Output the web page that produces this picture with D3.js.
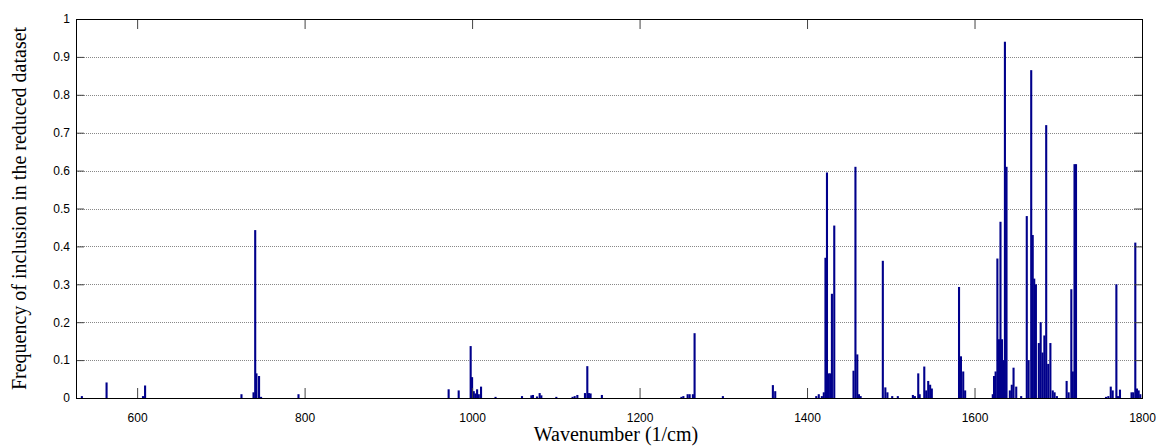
<!DOCTYPE html>
<html>
<head>
<meta charset="utf-8">
<script src="https://cdn.jsdelivr.net/npm/d3@7"></script>
<style>
  body { margin: 0; background: #fff; }
  svg { display: block; }
  .tick-label { font-family: "Liberation Sans", Arial, sans-serif; font-size: 12px; fill: #000; }
  .axis-title { font-family: "Liberation Serif", "Times New Roman", serif; font-size: 20px; fill: #000; }
</style>
</head>
<body>
<svg></svg>
<script>
// wavenumber (1/cm) of each selected variable
const wavenumbers = [
  534, 563.5, 607, 609.5, 724.6, 739, 741, 742.5, 745.6, 748, 792.7,
  972, 984, 998.3, 1000, 1002, 1004, 1006, 1008, 1010.7, 1028,
  1059.6, 1070.8, 1072.7, 1077.5, 1080.7, 1082.7, 1100.6, 1120, 1122.5, 1125.7,
  1134.8, 1137.6, 1139.5, 1141.5, 1155,
  1250, 1252.3, 1257.4, 1259.8, 1263.7, 1265.7, 1299.5, 1359.2, 1362,
  1411, 1414, 1417.7, 1420, 1422, 1423.8, 1425.7, 1427.6, 1429.7, 1432.5,
  1455.5, 1457.8, 1460, 1462, 1464,
  1490.5, 1493.5, 1496, 1501.7, 1508.4, 1526.4, 1528.8, 1532.8, 1534.5,
  1540, 1542.3, 1544.7, 1547, 1549,
  1581.5, 1583.8, 1586.5, 1588.8,
  1621.8, 1623.3, 1625.2, 1627.3, 1629.2, 1631, 1632.8, 1634.5, 1636.3, 1638.2,
  1642.2, 1644.5, 1646.6, 1649.8, 1655.7,
  1662.4, 1664.6, 1667.7, 1669.5, 1671.3, 1673.3, 1676.8, 1679, 1681.2, 1683.4,
  1685.6, 1688, 1690.6, 1693.4, 1695.6, 1698.4,
  1710, 1712.4, 1715.6, 1717.4, 1719.4, 1721.2,
  1757, 1759.8, 1762.7, 1765, 1769.4, 1771.3, 1773.7,
  1787.5, 1789.5, 1792, 1794, 1796, 1798
];
// frequency of inclusion in the reduced dataset
const frequencies = [
  0.005, 0.041, 0.005, 0.033, 0.01, 0.015, 0.443, 0.065, 0.058, 0.003, 0.01,
  0.023, 0.02, 0.137, 0.055, 0.018, 0.012, 0.023, 0.01, 0.03, 0.003,
  0.005, 0.007, 0.008, 0.004, 0.013, 0.007, 0.003, 0.003, 0.005, 0.008,
  0.013, 0.084, 0.013, 0.012, 0.008,
  0.003, 0.005, 0.01, 0.01, 0.01, 0.171, 0.005, 0.034, 0.018,
  0.005, 0.01, 0.005, 0.015, 0.37, 0.595, 0.065, 0.065, 0.275, 0.455,
  0.072, 0.61, 0.115, 0.01, 0.005,
  0.362, 0.028, 0.015, 0.005, 0.005, 0.008, 0.005, 0.065, 0.01,
  0.083, 0.02, 0.045, 0.035, 0.025,
  0.293, 0.11, 0.07, 0.02,
  0.01, 0.058, 0.07, 0.368, 0.155, 0.465, 0.155, 0.1, 0.94, 0.61,
  0.02, 0.035, 0.08, 0.03, 0.005,
  0.48, 0.1, 0.865, 0.43, 0.315, 0.3, 0.145, 0.2, 0.12, 0.165,
  0.72, 0.09, 0.145, 0.02, 0.015, 0.005,
  0.045, 0.015, 0.287, 0.07, 0.617, 0.617,
  0.003, 0.005, 0.03, 0.02, 0.3, 0.005, 0.022,
  0.015, 0.015, 0.41, 0.025, 0.02, 0.01
];
const xTicks = [600, 800, 1000, 1200, 1400, 1600, 1800];
const yTicks = [0, 0.1, 0.2, 0.3, 0.4, 0.5, 0.6, 0.7, 0.8, 0.9, 1];

let width = 1157;
let height = 447;
let margin = { top: 19, right: 15, bottom: 49, left: 76 };
let innerWidth = width - margin.left - margin.right;
let innerHeight = height - margin.top - margin.bottom;
let barWidth = 2.5; // in 1/cm

let svg = d3.select('svg').attr('width', width).attr('height', height);
let g = svg.append('g').attr('transform', `translate(${margin.left}, ${margin.top})`);

let xScale = d3.scaleLinear().domain([527, 1800]).range([0, innerWidth]);
let yScale = d3.scaleLinear().domain([0, 1]).range([innerHeight, 0]);

let data = wavenumbers.map((w, i) => ({ w: w, v: frequencies[i] }));

// grid lines
g.append('g')
  .selectAll('line')
  .data(yTicks.filter(t => t > 0 && t < 1))
  .enter()
  .append('line')
  .attr('x1', 0)
  .attr('x2', innerWidth)
  .attr('y1', d => Math.round(yScale(d)) + 0.5)
  .attr('y2', d => Math.round(yScale(d)) + 0.5)
  .attr('stroke', '#888')
  .attr('stroke-dasharray', '1,1');

// bars
g.append('g')
  .selectAll('rect')
  .data(data)
  .enter()
  .append('rect')
  .attr('x', d => xScale(d.w - barWidth / 2))
  .attr('width', xScale(barWidth) - xScale(0))
  .attr('y', d => yScale(d.v))
  .attr('height', d => innerHeight - yScale(d.v))
  .attr('fill', '#00008b');

// x axis: ticks point inward at bottom and top
let xAxisBottom = d3.axisBottom(xScale).tickValues(xTicks).tickSize(-10).tickPadding(15).tickFormat(d3.format('d'));
let xAxisTop = d3.axisTop(xScale).tickValues(xTicks).tickSize(-10).tickFormat('');
let yAxisLeft = d3.axisLeft(yScale).tickValues(yTicks).tickSize(-8).tickPadding(6).tickFormat(d => d === 0 || d === 1 ? d : d.toFixed(1));
let yAxisRight = d3.axisRight(yScale).tickValues(yTicks).tickSize(-8).tickFormat('');

function styleAxis(sel) {
  sel.select('.domain').remove();
  sel.selectAll('.tick line').attr('stroke', '#444');
  sel.selectAll('.tick text').filter(function () { return this.textContent === ''; }).remove();
  sel.selectAll('.tick text').attr('class', 'tick-label').attr('font-family', null).attr('font-size', null);
}

g.append('g').attr('transform', `translate(0, ${innerHeight})`).call(xAxisBottom).call(styleAxis);
g.append('g').call(xAxisTop).call(styleAxis);
g.append('g').call(yAxisLeft).call(styleAxis);
g.append('g').attr('transform', `translate(${innerWidth}, 0)`).call(yAxisRight).call(styleAxis);

// box
g.append('rect')
  .attr('x', 0.5)
  .attr('y', 0.5)
  .attr('width', innerWidth)
  .attr('height', innerHeight)
  .attr('fill', 'none')
  .attr('stroke', '#000');

// axis titles
svg.append('text')
  .attr('class', 'axis-title')
  .attr('x', 616)
  .attr('y', 441)
  .attr('text-anchor', 'middle')
  .text('Wavenumber (1/cm)');

svg.append('text')
  .attr('class', 'axis-title')
  .attr('transform', `translate(26, ${margin.top + innerHeight / 2}) rotate(-90)`)
  .attr('text-anchor', 'middle')
  .text('Frequency of inclusion in the reduced dataset');
</script>
</body>
</html>
